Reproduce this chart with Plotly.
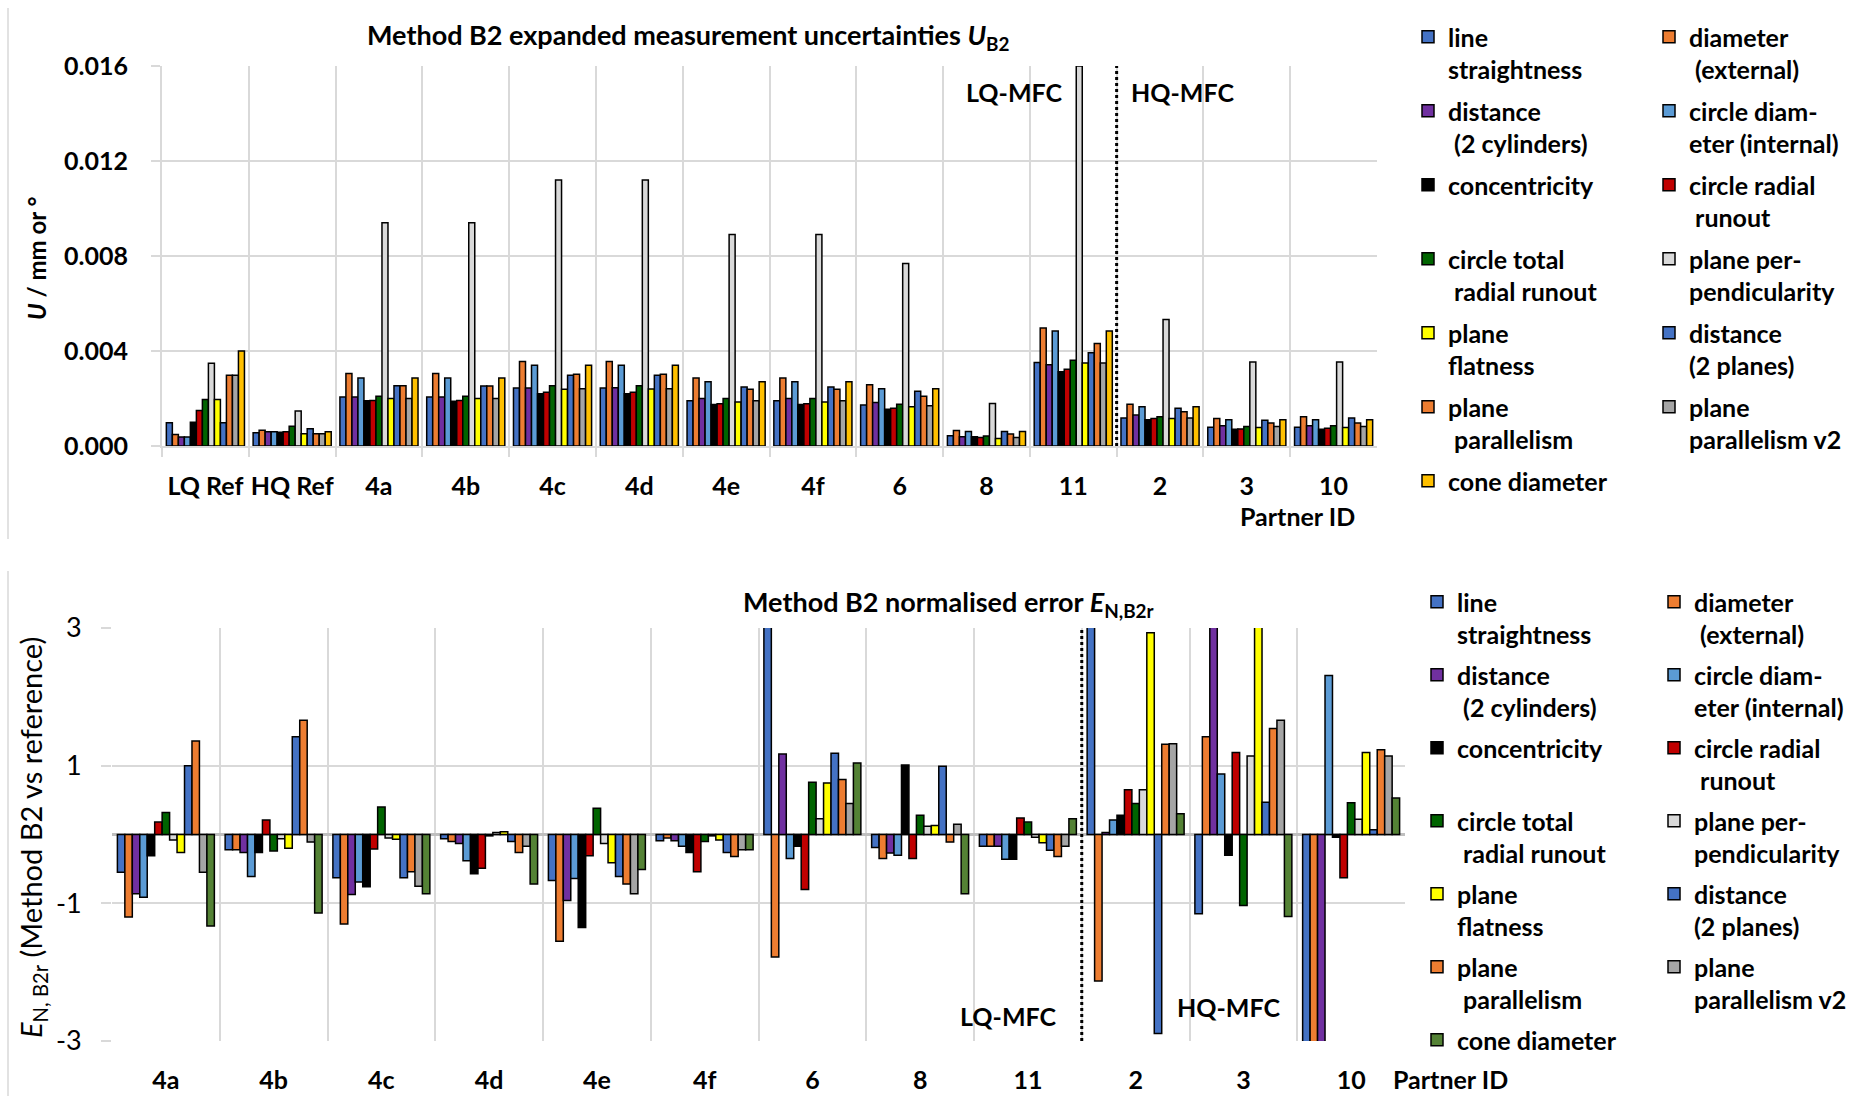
import plotly.graph_objects as go

W, H = 1869, 1096

# ---------------- data ----------------
partners_top = ["LQ Ref", "HQ Ref", "4a", "4b", "4c", "4d", "4e", "4f", "6", "8", "11", "2", "3", "10"]
partners_bottom = ["4a", "4b", "4c", "4d", "4e", "4f", "6", "8", "11", "2", "3", "10"]

series_names = [
    "line<br>straightness", "diameter<br>\u00a0(external)",
    "distance<br>\u00a0(2 cylinders)", "circle diam-<br>eter (internal)",
    "concentricity<br>\u00a0", "circle radial<br>\u00a0runout",
    "circle total<br>\u00a0radial runout", "plane per-<br>pendicularity",
    "plane<br>flatness", "distance<br>(2 planes)",
    "plane<br>\u00a0parallelism", "plane<br>parallelism v2",
    "cone diameter<br>\u00a0",
]

# Method B2 expanded uncertainties U_B2 (mm or deg), one list per characteristic
line_straightness_U = [0.00098, 0.00056, 0.00206, 0.00206, 0.00244, 0.00244, 0.0019, 0.0019, 0.00173, 0.00043, 0.00352, 0.00118, 0.00079, 0.00079]
diameter_ext_U = [0.00048, 0.00066, 0.00305, 0.00305, 0.00356, 0.00356, 0.00286, 0.00286, 0.00258, 0.00065, 0.00497, 0.00176, 0.00116, 0.00123]
distance_cyl_U = [0.00038, 0.0006, 0.00206, 0.00206, 0.00244, 0.00245, 0.002, 0.002, 0.00183, 0.00039, 0.00342, 0.0013, 0.00085, 0.00085]
circle_diam_int_U = [0.00038, 0.0006, 0.00286, 0.00286, 0.0034, 0.0034, 0.00271, 0.00271, 0.00241, 0.00061, 0.00484, 0.00165, 0.00111, 0.00111]
concentricity_U = [0.0010, 0.00058, 0.0019, 0.00188, 0.0022, 0.0022, 0.00175, 0.00175, 0.00155, 0.00039, 0.00313, 0.00111, 0.00071, 0.00071]
circle_radial_U = [0.00149, 0.0006, 0.00192, 0.00192, 0.00226, 0.00226, 0.00178, 0.00178, 0.00159, 0.00036, 0.00323, 0.00116, 0.00072, 0.00075]
circle_total_U = [0.00196, 0.00083, 0.00209, 0.00209, 0.00254, 0.00254, 0.002, 0.002, 0.00176, 0.00042, 0.00361, 0.00123, 0.00082, 0.00085]
plane_perp_U = [0.00348, 0.00147, 0.0094, 0.0094, 0.0112, 0.0112, 0.0089, 0.0089, 0.00768, 0.00179, 0.016, 0.00533, 0.00354, 0.00354]
plane_flat_U = [0.00196, 0.00052, 0.002, 0.002, 0.00239, 0.0024, 0.00185, 0.00185, 0.00165, 0.00032, 0.00349, 0.00116, 0.00078, 0.00078]
distance_planes_U = [0.00098, 0.00073, 0.00254, 0.00253, 0.00298, 0.00298, 0.00248, 0.00248, 0.00231, 0.00061, 0.00393, 0.00159, 0.00108, 0.00118]
plane_par_U = [0.00298, 0.00052, 0.00254, 0.00253, 0.00302, 0.00302, 0.00239, 0.00239, 0.00209, 0.0005, 0.00432, 0.00144, 0.00097, 0.00097]
plane_par_v2_U = [0.00298, 0.00052, 0.002, 0.002, 0.00241, 0.00241, 0.0019, 0.0019, 0.00169, 0.00036, 0.00349, 0.00118, 0.00082, 0.00082]
cone_diam_U = [0.0040, 0.0006, 0.00286, 0.00286, 0.0034, 0.0034, 0.00271, 0.00271, 0.00241, 0.00061, 0.00484, 0.00165, 0.00111, 0.00111]

# Method B2 normalised error E_N,B2r, one list per characteristic
line_straightness_E = [-0.55, -0.22, -0.63, -0.06, -0.67, -0.09, 3.6, -0.19, -0.17, 3.8, -1.15, -3.5]
diameter_ext_E = [-1.2, -0.22, -1.3, -0.1, -1.55, -0.05, -1.78, -0.35, -0.17, -2.13, 1.42, -3.5]
distance_cyl_E = [-0.86, -0.26, -0.87, -0.13, -0.96, -0.09, 1.17, -0.27, -0.17, 0.03, 3.5, -3.5]
circle_diam_int_E = [-0.91, -0.61, -0.69, -0.38, -0.64, -0.17, -0.35, -0.3, -0.36, 0.21, 0.88, 2.31]
concentricity_E = [-0.31, -0.26, -0.76, -0.57, -1.35, -0.26, -0.17, 1.01, -0.36, 0.28, -0.3, -0.04]
circle_radial_E = [0.18, 0.21, -0.21, -0.49, -0.31, -0.54, -0.8, -0.35, 0.24, 0.65, 1.19, -0.63]
circle_total_E = [0.32, -0.24, 0.4, -0.02, 0.38, -0.1, 0.76, 0.28, 0.18, 0.45, -1.03, 0.46]
plane_perp_E = [-0.08, -0.06, -0.05, 0.03, -0.13, -0.02, 0.23, 0.12, -0.04, 0.65, 1.14, 0.22]
plane_flat_E = [-0.26, -0.2, -0.07, 0.04, -0.41, -0.08, 0.75, 0.13, -0.12, 2.93, 3.4, 1.19]
distance_planes_E = [1.0, 1.42, -0.63, -0.1, -0.61, -0.26, 1.18, 0.99, -0.23, -2.89, 0.47, 0.07]
plane_par_E = [1.36, 1.66, -0.54, -0.26, -0.72, -0.32, 0.8, -0.11, -0.32, 1.31, 1.54, 1.23]
plane_par_v2_E = [-0.55, -0.11, -0.75, -0.17, -0.86, -0.22, 0.45, 0.15, -0.17, 1.32, 1.66, 1.14]
cone_diam_E = [-1.33, -1.14, -0.86, -0.72, -0.51, -0.22, 1.04, -0.86, 0.23, 0.3, -1.19, 0.53]

top_values = [line_straightness_U, diameter_ext_U, distance_cyl_U, circle_diam_int_U,
              concentricity_U, circle_radial_U, circle_total_U, plane_perp_U,
              plane_flat_U, distance_planes_U, plane_par_U, plane_par_v2_U, cone_diam_U]
bottom_values = [line_straightness_E, diameter_ext_E, distance_cyl_E, circle_diam_int_E,
                 concentricity_E, circle_radial_E, circle_total_E, plane_perp_E,
                 plane_flat_E, distance_planes_E, plane_par_E, plane_par_v2_E, cone_diam_E]

colors_top = ["#4472C4", "#ED7D31", "#7030A0", "#5B9BD5", "#000000", "#C00000", "#006400",
              "#D9D9D9", "#FFFF00", "#4472C4", "#ED7D31", "#A5A5A5", "#FFC000"]
colors_bottom = colors_top[:-1] + ["#548235"]

# ---------------- style ----------------
FONT = "Lato, 'Open Sans', sans-serif"
FS = 25
GRID = "#d9d9d9"


def px_x(x):
    return x / W


def px_y(y):
    return 1 - y / H


fig = go.Figure()

for i, (name, vals) in enumerate(zip(series_names, top_values)):
    fig.add_trace(go.Bar(
        x=partners_top, y=vals, name=name, xaxis="x", yaxis="y",
        marker=dict(color=colors_top[i], line=dict(color="black", width=1.5)),
        legend="legend" if i % 2 == 0 else "legend2",
        legendgroup=f"top{i}",
    ))

for i, (name, vals) in enumerate(zip(series_names, bottom_values)):
    fig.add_trace(go.Bar(
        x=partners_bottom, y=vals, name=name, xaxis="x2", yaxis="y2",
        marker=dict(color=colors_bottom[i], line=dict(color="black", width=1.5)),
        legend="legend3" if i % 2 == 0 else "legend4",
        legendgroup=f"bot{i}",
    ))

tick_font = dict(family=FONT, size=FS, color="black", weight="bold")
tick_font_reg = dict(family=FONT, size=27, color="black", weight="normal")

legend_common = dict(
    font=dict(family=FONT, size=FS, color="black", weight="bold"),
    bgcolor="rgba(0,0,0,0)", borderwidth=0, valign="top",
    traceorder="grouped", xanchor="left", yanchor="top", orientation="v",
)

fig.update_layout(
    width=W, height=H,
    margin=dict(l=0, r=0, t=0, b=0, autoexpand=False),
    paper_bgcolor="white", plot_bgcolor="white",
    barmode="group",
    font=dict(family=FONT, size=FS, color="black"),
    xaxis=dict(
        domain=[px_x(162), px_x(1377)], anchor="y",
        type="category", categoryorder="array", categoryarray=partners_top,
        tickson="boundaries", showgrid=True, gridcolor=GRID, gridwidth=2,
        ticks="outside", ticklen=9, tickwidth=2, tickcolor=GRID,
        showline=True, linecolor=GRID, linewidth=2, tickangle=0,
        tickfont=tick_font, ticklabelstandoff=17,
    ),
    yaxis=dict(
        domain=[px_y(446), px_y(66)], anchor="x",
        range=[0, 0.016], tick0=0, dtick=0.004, tickformat=".3f",
        showgrid=True, gridcolor=GRID, gridwidth=2,
        ticks="outside", ticklen=9, tickwidth=2, tickcolor=GRID,
        showline=True, linecolor=GRID, linewidth=2, zeroline=False,
        tickfont=tick_font, ticklabelstandoff=18,
    ),
    xaxis2=dict(
        domain=[px_x(112), px_x(1405)], anchor="y2",
        type="category", categoryorder="array", categoryarray=partners_bottom,
        tickson="boundaries", showgrid=True, gridcolor=GRID, gridwidth=2,
        ticks="", showline=False, tickangle=0,
        tickfont=tick_font, ticklabelstandoff=22,
    ),
    yaxis2=dict(
        domain=[px_y(1041), px_y(628)], anchor="x2",
        range=[-3, 3], tickvals=[-3, -1, 1, 3], ticktext=["-3", "-1", "1", "3"],
        showgrid=True, gridcolor=GRID, gridwidth=2,
        ticks="outside", ticklen=10, tickwidth=2, tickcolor=GRID,
        showline=False, zeroline=True, zerolinecolor="#bfbfbf", zerolinewidth=3,
        tickfont=tick_font_reg, ticklabelstandoff=14,
    ),
    bargap=0.1, bargroupgap=0,
    legend=dict(x=px_x(1408), y=px_y(14), tracegroupgap=6, **legend_common),
    legend2=dict(x=px_x(1649), y=px_y(14), tracegroupgap=6, **legend_common),
    legend3=dict(x=px_x(1417), y=px_y(579), tracegroupgap=5, **legend_common),
    legend4=dict(x=px_x(1654), y=px_y(579), tracegroupgap=5, **legend_common),
    showlegend=True,
)


def add_text(text, x, y, angle=0, size=FS, weight="bold"):
    fig.add_annotation(text=text, x=px_x(x), y=px_y(y), xref="paper", yref="paper",
                       xanchor="center", yanchor="middle", showarrow=False,
                       textangle=angle,
                       font=dict(family=FONT, size=size, color="black", weight=weight))


add_text("Method B2 expanded measurement uncertainties <i>U</i><sub>B2</sub>", 688, 36, size=27)
add_text("Method B2 normalised error <i>E</i><sub>N,B2r</sub>", 948, 603, size=27)
add_text("<i>U</i> / mm or °", 36, 258, angle=-90, size=24)
add_text("<i>E</i><sub>N, B2r</sub> (Method B2 vs reference)", 32, 838, angle=-90,
         size=29, weight="normal")
add_text("Partner ID", 1297, 516)
add_text("Partner ID", 1450, 1079)
add_text("LQ-MFC", 1014, 92)
add_text("HQ-MFC", 1182, 92)
add_text("LQ-MFC", 1008, 1016)
add_text("HQ-MFC", 1228, 1007)

# LQ / HQ separators at the boundary between partner 11 and partner 2
sep_top = partners_top.index("11") + 0.5
sep_bot = partners_bottom.index("11") + 0.5
fig.add_shape(type="line", xref="x", yref="y domain", x0=sep_top, x1=sep_top, y0=0, y1=1,
              line=dict(color="black", width=3, dash="dot"))
fig.add_shape(type="line", xref="x2", yref="y2 domain", x0=sep_bot, x1=sep_bot, y0=0, y1=1,
              line=dict(color="black", width=3, dash="dot"))

# chart-area borders (left edges)
fig.add_shape(type="line", xref="paper", yref="paper", x0=px_x(8), x1=px_x(8),
              y0=px_y(8), y1=px_y(539), line=dict(color=GRID, width=1.5))
fig.add_shape(type="line", xref="paper", yref="paper", x0=px_x(8), x1=px_x(8),
              y0=px_y(571), y1=px_y(1096), line=dict(color=GRID, width=1.5))

fig.write_html("out.html")
